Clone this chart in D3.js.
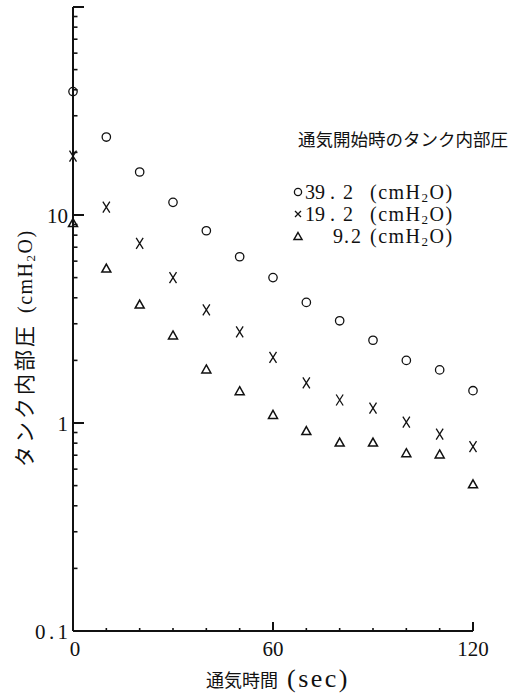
<!DOCTYPE html>
<html><head><meta charset="utf-8">
<script src="https://cdn.jsdelivr.net/npm/d3@7"></script>
<style>
html,body{margin:0;padding:0;background:#fff;}
svg{display:block;}
</style></head>
<body>
<script>
// ---- data ----
const times = [0,10,20,30,40,50,60,70,80,90,100,110,120];
const p392 = [39.2,23.7,16.1,11.5,8.4,6.3,5.0,3.8,3.1,2.5,2.0,1.8,1.43];
const p192 = [19.2,10.9,7.3,5.0,3.5,2.74,2.07,1.56,1.29,1.18,1.01,0.885,0.77];
const p92  = [9.2,5.56,3.73,2.65,1.82,1.43,1.10,0.92,0.81,0.81,0.72,0.71,0.51];
const xTickLabels = [0,60,120];
const yTickLabels = [0.1,1,10];
const legendNums = [["39","2"],["19","2"],["9","2"]];
const legendTitle = "通気開始時のタンク内部圧";
const xTitle = "通気時間";
const yTitle = "タンク内部圧";

const W=511,H=697;
const serif="'Liberation Serif','DejaVu Serif',serif";
const cjk="'Noto Sans CJK JP',sans-serif";

const svg=d3.select("body").append("svg").attr("width",W).attr("height",H);

const x=d3.scaleLinear().domain([0,120]).range([73,473]);
const y=d3.scaleLog().domain([0.1,100]).range([631,7]);

const ink="#111";

// axes lines
svg.append("line").attr("x1",x(0)).attr("x2",x(0)).attr("y1",y(100)).attr("y2",y(0.1))
  .attr("stroke",ink).attr("stroke-width",2);
svg.append("line").attr("x1",x(0)).attr("x2",x(120)).attr("y1",y(0.1)).attr("y2",y(0.1))
  .attr("stroke",ink).attr("stroke-width",2);

// y ticks
const yMinor=[];
[0.1,1,10].forEach(d=>{for(let k=2;k<=9;k++) yMinor.push(d*k);});
svg.selectAll(".ymin").data(yMinor).enter().append("line")
  .attr("x1",x(0)).attr("x2",x(0)+4.5).attr("y1",d=>y(d)).attr("y2",d=>y(d))
  .attr("stroke",ink).attr("stroke-width",1.6);
svg.selectAll(".ymaj").data([1,10,100]).enter().append("line")
  .attr("x1",x(0)).attr("x2",x(0)+11).attr("y1",d=>y(d)).attr("y2",d=>y(d))
  .attr("stroke",ink).attr("stroke-width",2);
svg.selectAll(".ylab").data(yTickLabels).enter().append("text")
  .attr("x",68).attr("y",d=>y(d)+8).attr("text-anchor","end")
  .attr("font-family",serif).attr("font-size",21).attr("fill",ink)
  .each(function(d){
    const t=d3.select(this);
    if(d===0.1){t.attr("textLength",33).attr("lengthAdjust","spacing").text("0.1");}
    else t.text(String(d));
  });

// x ticks
const xMinor=d3.range(10,120,10).filter(d=>d!==60);
svg.selectAll(".xmin").data(xMinor).enter().append("line")
  .attr("x1",d=>x(d)).attr("x2",d=>x(d)).attr("y1",y(0.1)).attr("y2",y(0.1)-3)
  .attr("stroke",ink).attr("stroke-width",1.6);
svg.selectAll(".xmaj").data([60,120]).enter().append("line")
  .attr("x1",d=>x(d)).attr("x2",d=>x(d)).attr("y1",y(0.1)).attr("y2",y(0.1)-9)
  .attr("stroke",ink).attr("stroke-width",2);
svg.selectAll(".xlab").data(xTickLabels).enter().append("text")
  .attr("x",d=>x(d)+(d===0?2:0)).attr("y",656).attr("text-anchor","middle")
  .attr("font-family",serif).attr("font-size",21).attr("fill",ink)
  .text(d=>d);

// markers
function circleM(g,cx,cy,r){g.append("circle").attr("cx",cx).attr("cy",cy).attr("r",r)
  .attr("fill","none").attr("stroke",ink).attr("stroke-width",1.3);}
function xM(g,cx,cy,w,h,sw){g.append("path")
  .attr("d",`M${cx-w/2},${cy-h/2}L${cx+w/2},${cy+h/2}M${cx+w/2},${cy-h/2}L${cx-w/2},${cy+h/2}`)
  .attr("fill","none").attr("stroke",ink).attr("stroke-width",sw);}
function triM(g,cx,cy,w,h){g.append("path")
  .attr("d",`M${cx},${cy-h/2}L${cx+w/2},${cy+h/2}L${cx-w/2},${cy+h/2}Z`)
  .attr("fill","none").attr("stroke",ink).attr("stroke-width",1.5).attr("stroke-linejoin","miter");}

const gp=svg.append("g");
times.forEach((t,i)=>{
  circleM(gp,x(t),y(p392[i]),4.2);
  xM(gp,x(t),y(p192[i]),7,11,1.3);
  triM(gp,x(t),y(p92[i]),9,8);
});

// legend
svg.append("text").attr("x",298).attr("y",146).attr("font-family",cjk).attr("font-size",17.5)
  .attr("fill",ink).text(legendTitle);
const rows=[199,221,243];
circleM(svg,298,rows[0]-7,3.6);
xM(svg,298,rows[1]-7,6,6,1.3);
triM(svg,298,rows[2]-7,8,7);
legendNums.forEach((n,i)=>{
  const t=svg.append("text").attr("x",i===2?333:305).attr("y",rows[i])
    .attr("font-family",serif).attr("font-size",20).attr("fill",ink);
  t.append("tspan").text(n[0]);
  t.append("tspan").attr("dx",i===2?1:5).text(".");
  t.append("tspan").attr("dx",i===2?2:8).text(n[1]);
  const u=svg.append("text").attr("x",370).attr("y",rows[i]).attr("font-family",serif)
    .attr("font-size",20).attr("letter-spacing",1.5).attr("fill",ink);
  u.append("tspan").text("(cmH");
  u.append("tspan").attr("font-size",13).attr("dy",3).text("2");
  u.append("tspan").attr("dy",-3).text("O)");
});

// x title
const xt=svg.append("text").attr("x",206).attr("y",687).attr("fill",ink);
xt.append("tspan").attr("font-family",cjk).attr("font-size",18).text(xTitle);
xt.append("tspan").attr("font-family",serif).attr("font-size",26).attr("letter-spacing",2.5)
  .attr("dx",9).text("(sec)");

// y title
const yt=svg.append("text").attr("transform","translate(32,467) rotate(-90)").attr("fill",ink);
yt.append("tspan").attr("font-family",cjk).attr("font-size",21).attr("letter-spacing",3).text(yTitle);
yt.append("tspan").attr("font-family",serif).attr("font-size",20).attr("letter-spacing",1.5).attr("dx",10).text("(cmH");
yt.append("tspan").attr("font-family",serif).attr("font-size",13).attr("letter-spacing",1.5).attr("dy",3).text("2");
yt.append("tspan").attr("font-family",serif).attr("font-size",20).attr("letter-spacing",1.5).attr("dy",-3).text("O)");
</script>
</body></html>
